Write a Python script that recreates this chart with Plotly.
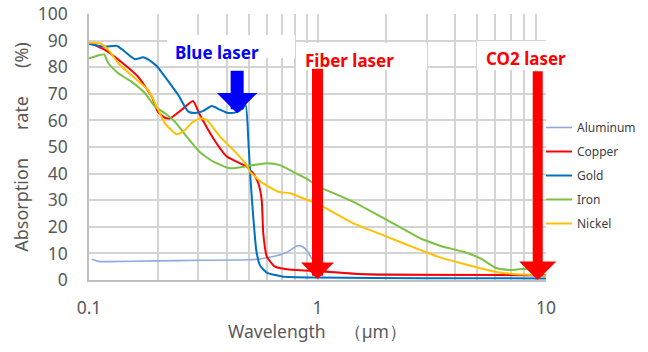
import math
import plotly.graph_objects as go

# ---------------- data ----------------
metals = ["Aluminum", "Copper", "Gold", "Iron", "Nickel"]
colors = ["#8FAADC", "#FF0000", "#0070C0", "#7AC143", "#FFC000"]

wl_al = [0.1028, 0.11, 0.12, 0.2, 0.3, 0.5, 0.56, 0.64, 0.73, 0.82, 0.86, 0.9, 0.96, 1.0, 1.1, 1.4, 2.0, 5.0, 10.0]
ab_al = [7.8, 7.0, 6.9, 7.2, 7.4, 7.6, 7.9, 8.8, 10.3, 12.9, 12.5, 11.0, 7.0, 4.8, 3.5, 2.5, 2.2, 1.8, 1.6]

wl_cu = [0.1, 0.1175, 0.1437, 0.164, 0.188, 0.2, 0.215, 0.226, 0.2545, 0.285, 0.306, 0.349, 0.401, 0.49, 0.524,
         0.551, 0.570, 0.579, 0.6, 0.652, 0.733, 1.0, 1.5, 2.0, 10.0]
ab_cu = [89.2, 86.5, 80.8, 76.4, 69.0, 63.3, 61.0, 60.8, 64.0, 67.3, 62.0, 53.4, 46.4, 42.6, 40.0,
         36.3, 30.0, 17.5, 8.8, 5.0, 4.0, 3.3, 2.3, 2.0, 1.8]

wl_au = [0.1, 0.1175, 0.1327, 0.1437, 0.159, 0.173, 0.188, 0.2, 0.215, 0.246, 0.272, 0.29, 0.315, 0.345, 0.375,
         0.405, 0.44, 0.47, 0.485, 0.50, 0.51, 0.522, 0.54, 0.56, 0.6, 0.7, 1.0, 3.0, 10.0]
ab_au = [88.7, 87.7, 88.0, 85.8, 83.0, 83.7, 82.0, 80.0, 76.4, 69.5, 63.3, 62.8, 63.5, 65.4, 64.0,
         62.8, 63.0, 64.5, 65.8, 50.0, 37.0, 25.0, 11.0, 5.5, 2.8, 1.3, 0.9, 0.7, 0.6]

wl_fe = [0.1, 0.1117, 0.1165, 0.1215, 0.1343, 0.1538, 0.1758, 0.1944, 0.215, 0.2378, 0.2677, 0.306, 0.35, 0.414,
         0.49, 0.6, 0.685, 0.81, 0.9, 1.0, 1.435, 2.01, 2.81, 3.21, 3.55, 4.35, 5.14, 6.09, 6.96, 7.95, 9.41, 10.0]
ab_fe = [83.3, 84.6, 84.8, 81.5, 77.7, 74.5, 70.2, 65.2, 62.7, 59.5, 53.9, 48.0, 44.5, 42.0,
         42.8, 43.9, 43.2, 40.0, 38.0, 35.3, 29.4, 22.6, 15.7, 13.8, 12.5, 10.6, 8.2, 4.4, 3.8, 4.1, 3.8, 3.2]

wl_ni = [0.1, 0.1117, 0.1215, 0.1343, 0.159, 0.1817, 0.1978, 0.215, 0.242, 0.263, 0.281, 0.306, 0.3275, 0.3744,
         0.428, 0.49, 0.5065, 0.579, 0.674, 0.758, 0.867, 1.025, 1.435, 2.01, 2.81, 3.44, 4.0, 4.97, 5.98, 7.19, 8.8, 10.0]
ab_ni = [89.2, 89.0, 86.5, 81.5, 75.8, 71.4, 65.2, 58.9, 54.8, 56.4, 59.0, 60.8, 60.2, 53.9,
         48.9, 43.2, 40.7, 36.3, 33.2, 32.6, 30.7, 28.2, 21.3, 16.3, 11.3, 8.5, 6.9, 4.8, 3.1, 2.3, 1.9, 1.5]

series_wl = [wl_al, wl_cu, wl_au, wl_fe, wl_ni]
series_ab = [ab_al, ab_cu, ab_au, ab_fe, ab_ni]

laser_names = ["Blue laser", "Fiber laser", "CO2 laser"]
laser_colors = ["#0000FF", "#FF0000", "#FF0000"]
laser_wl = [0.445, 1.0, 9.2]
arrow_top = [79.2, 80.0, 79.0]
arrow_tip = [62.7, 0.4, 0.0]

x_tickvals = [0.1, 1, 10]
x_ticktext = ["0.1", "1", "10"]
x_minor = [0.2, 0.3, 0.4, 0.5, 0.6, 0.7, 0.8, 0.9, 2, 3, 4, 5, 6, 7, 8, 9]

# ---------------- layout helpers ----------------
L, R, T, B = 89, 546, 14, 280
W, H = 648, 352


def px_x(p):
    return (p - L) / (R - L)


def px_y(p):
    return (B - p) / (B - T)


FONT = "Noto Sans"
fig = go.Figure()

for name, col, wl, ab in zip(metals, colors, series_wl, series_ab):
    fig.add_trace(go.Scatter(
        x=wl, y=ab, name=name, mode="lines", legendgroup=name,
        line=dict(color=col, width=1.6 if name == "Aluminum" else 2.0, shape="spline", smoothing=0.5),
    ))

shapes = []
for (x0, x1, y0, y1) in [(167, 295, 35, 58), (296, 427, 43, 70), (477, 548, 41, 70)]:
    shapes.append(dict(type="rect", xref="paper", yref="paper",
                       x0=px_x(x0), x1=px_x(x1), y0=px_y(y1), y1=px_y(y0),
                       fillcolor="white", line=dict(width=0), layer="above"))

annotations = []
label_px = [(217, 53), (349, 60), (526, 58.5)]
for name, col, (cx, cy) in zip(laser_names, laser_colors, label_px):
    annotations.append(dict(text="<b>%s</b>" % name, xref="paper", yref="paper",
                            x=px_x(cx), y=px_y(cy), xanchor="center", yanchor="middle",
                            showarrow=False, font=dict(family=FONT, size=17, color=col)))

shaft_w = [13, 11, 10]
head_size = [0.52, 0.5, 0.62]
for col, wl, top, tip, sw, hs in zip(laser_colors, laser_wl, arrow_top, arrow_tip, shaft_w, head_size):
    annotations.append(dict(text="", x=math.log10(wl), y=tip, ax=math.log10(wl), ay=top,
                            xref="x", yref="y", axref="x", ayref="y",
                            showarrow=True, arrowhead=1, arrowsize=hs, arrowwidth=sw,
                            arrowcolor=col))

grid = "#D4D4D4"
fig.update_layout(
    width=W, height=H, autosize=False,
    margin=dict(l=L, r=0, t=T, b=H - B, pad=0),
    paper_bgcolor="white", plot_bgcolor="white",
    font=dict(family=FONT, color="#595959"),
    shapes=shapes, annotations=annotations,
    legend=dict(xref="container", yref="container", x=R / W, y=1 - 113 / H,
                xanchor="left", yanchor="top", indentation=-9,
                font=dict(family=FONT, size=12, color="#404040"),
                bgcolor="rgba(0,0,0,0)", tracegroupgap=5),
    xaxis=dict(type="log", range=[-1, 1], tickvals=x_tickvals, ticktext=x_ticktext,
               showgrid=True, gridcolor=grid, gridwidth=1.5, automargin=False,
               minor=dict(tickvals=x_minor, showgrid=True, gridcolor=grid, gridwidth=1.5),
               showline=True, linecolor="#BFBFBF", linewidth=1.5, zeroline=False,
               ticks="", ticklabelstandoff=11,
               tickfont=dict(family=FONT, size=17.5, color="#595959"),
               title=dict(text="Wavelength\u3000（µm）", standoff=1,
                          font=dict(family=FONT, size=17.5, color="#595959"))),
    yaxis=dict(range=[0, 100], dtick=10, showgrid=True, gridcolor=grid, gridwidth=1.5,
               showline=True, linecolor="#BFBFBF", linewidth=1.5, zeroline=False,
               ticks="", ticklabelstandoff=16, automargin=False,
               tickfont=dict(family=FONT, size=17.5, color="#595959"),
               title=dict(text="Absorption\u00a0\u00a0\u00a0\u00a0\u00a0\u00a0rate\u00a0\u00a0\u00a0\u00a0\u00a0\u00a0(%)",
                          standoff=4, font=dict(family=FONT, size=18, color="#595959"))),
)

fig.write_html("out.html")
